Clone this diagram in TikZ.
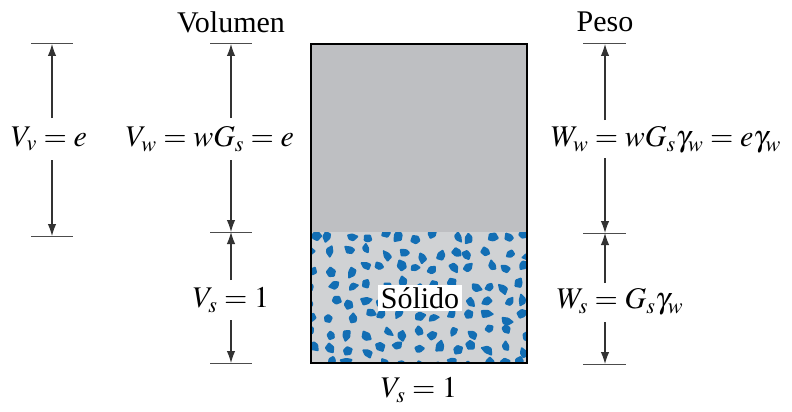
\documentclass[tikz,border=0pt]{standalone}
\usepackage{mathptmx}
\usepackage{fontspec}
\setmainfont{Liberation Serif}
\usetikzlibrary{arrows.meta}
\definecolor{watergray}{RGB}{190,191,194}
\definecolor{solidgray}{RGB}{208,210,212}
\definecolor{blobc}{RGB}{18,110,180}
\begin{document}
\begin{tikzpicture}[x=1pt,y=-1pt,
  lbl/.style={font=\fontsize{30}{32}\selectfont, inner sep=1pt},
  tick/.style={draw=black!70, line width=1pt},
  dim/.style={draw=black!80, line width=1.1pt, -{Latex[length=12pt,width=8.5pt]}}]
\useasboundingbox (0,0) rectangle (792,412);
% box
\fill[watergray] (311,44) rectangle (527,232);
\fill[solidgray] (311,232) rectangle (527,363);
\begin{scope}
\clip (311,232) rectangle (527,363);
\pgfmathsetseed{1717}
\foreach \i in {0,...,12}{\foreach \j in {0,...,8}{
  \pgfmathsetmacro\cx{314+\i*17.5+5*rand}
  \pgfmathsetmacro\cy{237+\j*16+4.5*rand}
  \pgfmathsetmacro\a{360*rnd}
  \pgfmathsetmacro\ra{5.0+3.0*rnd}
  \pgfmathsetmacro\rb{3.4+2.4*rnd}
  \pgfmathsetmacro\rc{4.6+3.0*rnd}
  \pgfmathsetmacro\rd{3.0+2.2*rnd}
  \pgfmathsetmacro\re{3.8+2.4*rnd}
  \fill[blobc,rounded corners=1pt]
    ([shift={(\cx,\cy)}]\a:\ra) -- ([shift={(\cx,\cy)}]\a+72:\rb) --
    ([shift={(\cx,\cy)}]\a+144:\rc) -- ([shift={(\cx,\cy)}]\a+216:\rd) --
    ([shift={(\cx,\cy)}]\a+288:\re) -- cycle;
}}
\end{scope}
\draw[line width=1.4pt] (311,44) rectangle (527,363);
\node[lbl, fill=white, inner sep=2.5pt] (solido) at (420,298) {Sólido};
\node[lbl] (vsb) at (419,390) {$V_s=1$};

% ticks
\coordinate (a1) at (52,44); \coordinate (a2) at (52,236);
\draw[tick] (31,44) -- (73,44);
\draw[tick] (31,236) -- (73,236);
\coordinate (b1) at (231,44); \coordinate (b2) at (231,232); \coordinate (b3) at (231,363);
\draw[tick] (210,44) -- (252,44);
\draw[tick] (210,232) -- (252,232);
\draw[tick] (210,363) -- (252,363);
\coordinate (c1) at (605,44); \coordinate (c2) at (605,233); \coordinate (c3) at (605,364);
\draw[tick] (583,44) -- (626,44);
\draw[tick] (583,233) -- (626,233);
\draw[tick] (583,364) -- (626,364);

% labels
\node[lbl] (vol) at (231,22) {Volumen};
\node[lbl] (peso) at (605,22) {Peso};
\node[lbl] (vv) at (49,139) {$V_v=e$};
\node[lbl] (vw) at (210,139) {$V_w=wG_s=e$};
\node[lbl] (vs) at (231,300) {$V_s=1$};
\node[lbl] (ww) at (666,140) {$W_w=wG_s\gamma_w=e\gamma_w$};
\node[lbl] (ws) at (620,302) {$W_s=G_s\gamma_w$};

% arrows
\draw[dim] (52,118) -- (a1);
\draw[dim] (52,160) -- (a2);
\draw[dim] (231,118) -- (b1);
\draw[dim] (231,160) -- (b2);
\draw[dim] (231,280) -- (b2);
\draw[dim] (231,320) -- (b3);
\draw[dim] (605,120) -- (c1);
\draw[dim] (605,158) -- (c2);
\draw[dim] (605,283) -- (c2);
\draw[dim] (605,322) -- (c3);
\end{tikzpicture}
\end{document}
